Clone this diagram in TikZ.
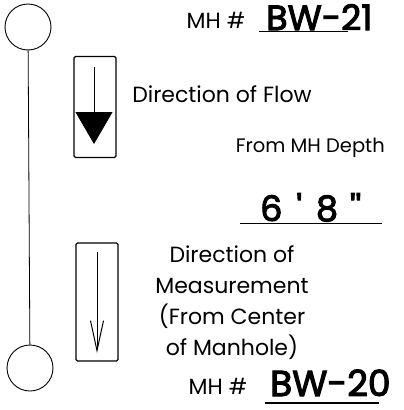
\documentclass[tikz,border=0pt]{standalone}
\usepackage{fontspec}
\setmainfont{Poppins}
\newfontfamily\handfont[FakeBold=3]{Poppins}
\usetikzlibrary{arrows.meta}
\tikzset{
  manhole/.style={circle, draw, line width=0.9pt, minimum size=46pt, inner sep=0pt},
  arrowbox/.style={rectangle, draw, line width=1.1pt, rounded corners=1.5pt, minimum width=42pt, inner sep=0pt},
  labeltext/.style={font=\fontsize{22}{31}\selectfont, inner sep=0pt},
  hand/.style={font=\fontsize{35}{35}\handfont, inner sep=0pt, text depth=0pt},
  underline/.style={line width=1.4pt}
}

\begin{document}
\begin{tikzpicture}[x=1pt, y=-1pt]
    \useasboundingbox (0,0) rectangle (404,410);
    % Manholes
    \node (mhtop) [manhole] at (28,27) {};
    \node (mhbot) [manhole] at (30,368) {};
    \draw[line width=0.8pt] (mhtop) -- (mhbot);

    % Legend boxes
    \node (flowbox) [arrowbox, minimum height=101pt] at (95,107) {};
    \node (measbox) [arrowbox, minimum height=118pt] at (97,302) {};
    \coordinate (flowstart) at (94,67);
    \coordinate (flowend) at (94,144);
    \coordinate (measstart) at (97,252);
    \coordinate (measend) at (97,353);
    \draw[line width=0.8pt, -{Triangle[width=37pt, length=32pt]}] (flowstart) -- (flowend);
    \draw[line width=0.8pt, -{Straight Barb[width=13pt, length=30pt, line width=1pt]}] (measstart) -- (measend);

    % Labels
    \node (mhtoplabel) [labeltext, anchor=base] at (216,28) {MH \#};
    \node (bwtop) [hand, anchor=base west] at (266,30) {BW-21};
    \node (flowtext) [labeltext, anchor=base] at (222,102) {Direction of Flow};
    \node (depthtext) [labeltext, font=\fontsize{19.5}{24}\selectfont, anchor=base east] at (385,152) {From MH Depth};
    \node (depth) [hand, anchor=base west] at (260,221) {6\hspace{14pt}'\hspace{14pt}8\hspace{12pt}''};
    \node (meastext) [labeltext, align=center, anchor=north] at (232,245) {Direction of\\Measurement\\(From Center\\of Manhole)};
    \node (mhbotlabel) [labeltext, anchor=base] at (218,394) {MH \#};
    \node (bwbot) [hand, font=\fontsize{36}{36}\handfont, anchor=base west] at (270,396) {BW-20};

    % Underlines
    \draw[underline] ([xshift=-7pt, yshift=-1.5pt]bwtop.base west) -- ([xshift=-25pt, yshift=-1.5pt]bwtop.base east);
    \draw[underline] ([xshift=-20pt, yshift=-2.5pt]depth.base west) -- ([xshift=21pt, yshift=-2.5pt]depth.base east);
    \draw[underline] ([xshift=-5pt, yshift=-7pt]bwbot.base west) -- ([xshift=-12pt, yshift=-7pt]bwbot.base east);
\end{tikzpicture}
\end{document}
